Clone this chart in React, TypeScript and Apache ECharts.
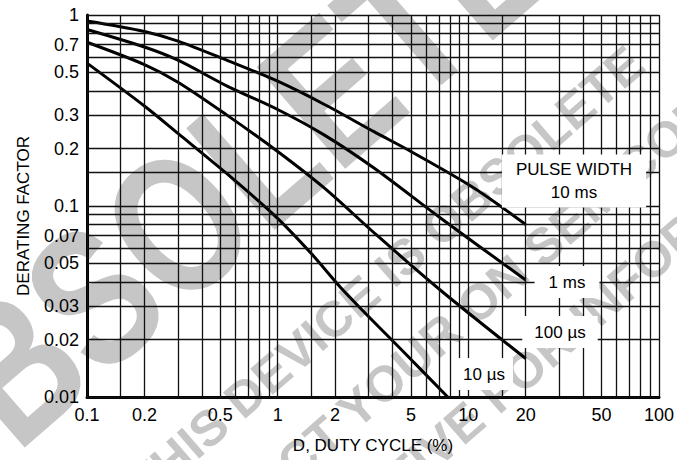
import React, { useEffect, useRef } from "react";
import * as echarts from "echarts";

// Tick labels
const xTickLabels = [0.1, 0.2, 0.5, 1, 2, 5, 10, 20, 50, 100];
const yTickLabels = [0.01, 0.02, 0.03, 0.05, 0.07, 0.1, 0.2, 0.3, 0.5, 0.7, 1];

// Grid line positions (log paper)
const xGridValues = [
  0.1, 0.15, 0.2, 0.3, 0.4, 0.5, 0.6, 0.7, 0.8, 0.9,
  1, 1.5, 2, 3, 4, 5, 6, 7, 8, 9,
  10, 15, 20, 30, 40, 50, 60, 70, 80, 90, 100,
];
const yGridValues = [
  0.015, 0.02, 0.03, 0.04, 0.05, 0.06, 0.07, 0.08, 0.09,
  0.1, 0.15, 0.2, 0.3, 0.4, 0.5, 0.6, 0.7, 0.8, 0.9, 1,
];

// Curves: duty cycle (%) vs derating factor
const duty10ms = [0.1, 0.2, 0.3, 0.54, 1, 1.76, 3.2, 5, 10.75, 20];
const factor10ms = [0.93, 0.82, 0.73, 0.58, 0.45, 0.34, 0.245, 0.193, 0.124, 0.08];

const duty1ms = [0.1, 0.2, 0.3, 0.54, 1, 1.76, 3.2, 7.2, 20];
const factor1ms = [0.84, 0.68, 0.58, 0.426, 0.32, 0.235, 0.158, 0.086, 0.041];

const duty100us = [0.1, 0.2, 0.3, 0.54, 1, 1.76, 3.3, 7.2, 20];
const factor100us = [0.72, 0.55, 0.445, 0.3, 0.193, 0.124, 0.0705, 0.036, 0.0159];

const duty10us = [0.1, 0.2, 0.3, 0.54, 0.98, 1.5, 2.23, 4.89, 7.8];
const factor10us = [0.56, 0.334, 0.24, 0.148, 0.0877, 0.0564, 0.0358, 0.0161, 0.01];

const curves = [
  { name: "10 ms", x: duty10ms, y: factor10ms },
  { name: "1 ms", x: duty1ms, y: factor1ms },
  { name: "100 µs", x: duty100us, y: factor100us },
  { name: "10 µs", x: duty10us, y: factor10us },
];

const FONT = '"Liberation Sans", Arial, Helvetica, sans-serif';
const GRAY = "#c6c6c6";

function fmt(list: number[]) {
  return (v: number) => {
    const hit = list.find((l) => Math.abs(Math.log10(l) - Math.log10(v)) < 1e-6);
    return hit === undefined ? "" : String(hit);
  };
}

export default function App() {
  const ref = useRef<HTMLDivElement>(null);

  useEffect(() => {
    document.body.style.margin = "0";
    if (!ref.current) return;
    const chart = echarts.init(ref.current, undefined, { renderer: "svg" });
    const ang = (41 * Math.PI) / 180;

    const labelText = (text: string, x: number, y: number, pad: number[]) => ({
      type: "text",
      z: 100,
      x,
      y,
      style: {
        text,
        align: "center",
        verticalAlign: "middle",
        fill: "#000",
        font: `17px ${FONT}`,
        lineHeight: 23,
        backgroundColor: "#fff",
        padding: pad,
      },
    });

    const wm = (text: string, x: number, y: number, size: number, sx: number) => ({
      type: "text",
      z: -10,
      x,
      y,
      rotation: ang,
      scaleX: sx,
      silent: true,
      style: {
        text,
        align: "center",
        verticalAlign: "middle",
        fill: GRAY,
        font: `bold ${size}px ${FONT}`,
      },
    });

    chart.setOption({
      animation: false,
      backgroundColor: "#fff",
      grid: { left: 87, right: 14, top: 15, bottom: 63 },
      xAxis: {
        type: "log",
        logBase: 10,
        min: 0.1,
        max: 100,
        axisLine: { show: true, onZero: false, lineStyle: { color: "#000", width: 3 } },
        axisTick: { show: false },
        splitLine: { show: false },
        axisLabel: {
          customValues: xTickLabels,
          formatter: fmt(xTickLabels),
          color: "#000",
          fontSize: 18,
          fontFamily: FONT,
          margin: 9,
        },
        name: "D, DUTY CYCLE (%)",
        nameLocation: "middle",
        nameGap: 40,
        nameTextStyle: { color: "#000", fontSize: 17, fontFamily: FONT },
      },
      yAxis: {
        type: "log",
        logBase: 10,
        min: 0.01,
        max: 1,
        axisLine: { show: true, onZero: false, lineStyle: { color: "#000", width: 3 } },
        axisTick: { show: false },
        splitLine: { show: false },
        axisLabel: {
          customValues: yTickLabels,
          formatter: fmt(yTickLabels),
          color: "#000",
          fontSize: 18,
          fontFamily: FONT,
          margin: 8,
        },
        name: "DERATING FACTOR",
        nameLocation: "middle",
        nameGap: 55,
        nameTextStyle: { color: "#000", fontSize: 17, fontFamily: FONT, padding: [0, 20, 0, 0] },
      },
      series: [
        {
          type: "line",
          name: "grid",
          z: 1,
          silent: true,
          data: [],
          markLine: {
            silent: true,
            symbol: ["none", "none"],
            label: { show: false },
            lineStyle: { color: "#111", width: 1.3, type: "solid" },
            emphasis: { disabled: true },
            data: [
              ...xGridValues.map((v) => ({ xAxis: v })),
              ...yGridValues.map((v) => ({ yAxis: v })),
            ],
          },
        },
        ...curves.map((c) => ({
          type: "line",
          name: c.name,
          z: 3,
          silent: true,
          showSymbol: false,
          smooth: 0.3,
          lineStyle: { color: "#000", width: 3 },
          data: c.x.map((x, i) => [x, c.y[i]]),
        })),
      ],
      graphic: [
        wm("OBSOLETE", 200, 205, 196, 0.78),
        wm("THIS DEVICE IS OBSOLETE", 386, 274, 50, 1),
        wm("CONTACT YOUR ON SEMICONDUCTOR", 511, 274, 50, 1),
        wm("REPRESENTATIVE FOR INFORMATION", 491, 400, 50, 1),
        labelText("PULSE WIDTH\n10 ms", 574, 181, [3, 14, 4, 14]),
        labelText("1 ms", 567, 282, [5, 14, 4, 14]),
        labelText("100 µs", 560, 332, [5, 12, 4, 12]),
        labelText("10 µs", 484, 374, [5, 8, 4, 8]),
      ],
    });

    return () => chart.dispose();
  }, []);

  return <div ref={ref} style={{ width: 677, height: 460 }} />;
}
